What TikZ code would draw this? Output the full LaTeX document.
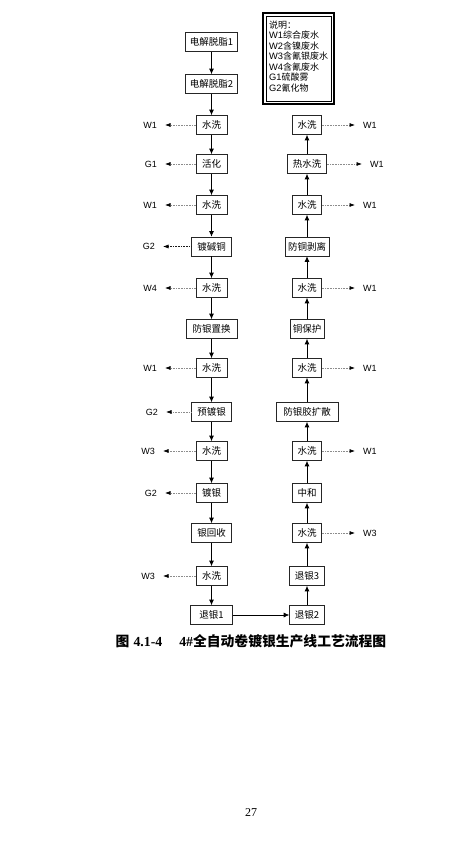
\documentclass[tikz,border=0pt]{standalone}
\usepackage{fontspec}
\setmainfont{Liberation Sans}
\newfontfamily\cjk{Noto Sans CJK SC}
\newfontfamily\serifnum{Liberation Serif}
\usetikzlibrary{arrows.meta}
\newcommand{\lat}[1]{{\rmfamily\fontsize{9.3}{10.5}\selectfont #1}}
\begin{document}
\begin{tikzpicture}[x=1pt,y=-1pt,
  proc/.style={draw=black!85, line width=0.6pt, font=\cjk\fontsize{9.5}{11}\selectfont, minimum height=19pt, inner xsep=1pt, inner ysep=0pt, minimum width=#1},
  flow/.style={line width=0.8pt, -{Latex[length=5.5pt,width=5pt]}},
  side/.style={black!45, densely dotted, line width=0.6pt, shorten >=8pt, -{Latex[length=5.5pt,width=4pt,color=black]}},
  sidedark/.style={side, black!90},
  lbl/.style={font=\fontsize{9}{10}\selectfont, inner sep=0pt},
]
\useasboundingbox (0,0) rectangle (454,842);
\fill[white] (0,0) rectangle (454,842);
\def\xl{211.5}
\def\xr{307}
% left column
\node[proc=52] (L1) at (\xl,42) {电解脱脂1};
\node[proc=52] (L2) at (\xl,84) {电解脱脂2};
\node[proc=31] (L3) at (\xl,125) {水洗};
\node[proc=31] (L4) at (\xl,164) {活化};
\node[proc=31] (L5) at (\xl,205) {水洗};
\node[proc=40] (L6) at (\xl,246.5) {镀碱铜};
\node[proc=31] (L7) at (\xl,288) {水洗};
\node[proc=51] (L8) at (\xl,329) {防银置换};
\node[proc=31] (L9) at (\xl,368) {水洗};
\node[proc=40] (L10) at (\xl,412) {预镀银};
\node[proc=31] (L11) at (\xl,451) {水洗};
\node[proc=31] (L12) at (\xl,493) {镀银};
\node[proc=40] (L13) at (\xl,533) {银回收};
\node[proc=31] (L14) at (\xl,576) {水洗};
\node[proc=42] (L15) at (\xl,615) {退银1};
% right column
\node[proc=29] (R1) at (\xr,125) {水洗};
\node[proc=39] (R2) at (\xr,164) {热水洗};
\node[proc=29] (R3) at (\xr,205) {水洗};
\node[proc=44] (R4) at (\xr,246.5) {防铜剥离};
\node[proc=29] (R5) at (\xr,288) {水洗};
\node[proc=34] (R6) at (\xr,329) {铜保护};
\node[proc=29] (R7) at (\xr,368) {水洗};
\node[proc=62] (R8) at (\xr,412) {防银胶扩散};
\node[proc=29] (R9) at (\xr,451) {水洗};
\node[proc=29] (R10) at (\xr,493) {中和};
\node[proc=29] (R11) at (\xr,533) {水洗};
\node[proc=35] (R12) at (\xr,576) {退银3};
\node[proc=35] (R13) at (\xr,615) {退银2};
% flow arrows
\foreach \a/\b in {L1/L2,L2/L3,L3/L4,L4/L5,L5/L6,L6/L7,L7/L8,L8/L9,L9/L10,L10/L11,L11/L12,L12/L13,L13/L14,L14/L15,R13/R12,R12/R11,R11/R10,R10/R9,R9/R8,R8/R7,R7/R6,R6/R5,R5/R4,R4/R3,R3/R2,R2/R1}
  \draw[flow] (\a) -- (\b);
\draw[flow, line width=0.6pt] (L15) -- (R13);
% left side labels
\node[lbl, anchor=east] (lw3) at (157,125) {W1};
\node[lbl, anchor=east] (lw4) at (157,164) {G1};
\node[lbl, anchor=east] (lw5) at (157,205) {W1};
\node[lbl, anchor=east] (lw6) at (155,246.5) {G2};
\node[lbl, anchor=east] (lw7) at (157,288) {W4};
\node[lbl, anchor=east] (lw9) at (157,368) {W1};
\node[lbl, anchor=east] (lw10) at (158,412) {G2};
\node[lbl, anchor=east] (lw11) at (155,451) {W3};
\node[lbl, anchor=east] (lw12) at (157,493) {G2};
\node[lbl, anchor=east] (lw14) at (155,576) {W3};
\draw[side] (L3) -- (lw3);
\draw[side] (L4) -- (lw4);
\draw[side] (L5) -- (lw5);
\draw[sidedark] (L6) -- (lw6);
\draw[side] (L7) -- (lw7);
\draw[side] (L9) -- (lw9);
\draw[side] (L10) -- (lw10);
\draw[side] (L11) -- (lw11);
\draw[side] (L12) -- (lw12);
\draw[side] (L14) -- (lw14);
% right side labels
\node[lbl, anchor=west] (rw1) at (363,125) {W1};
\node[lbl, anchor=west] (rw2) at (370,164) {W1};
\node[lbl, anchor=west] (rw3) at (363,205) {W1};
\node[lbl, anchor=west] (rw5) at (363,288) {W1};
\node[lbl, anchor=west] (rw7) at (363,368) {W1};
\node[lbl, anchor=west] (rw9) at (363,451) {W1};
\node[lbl, anchor=west] (rw11) at (363,533) {W3};
\draw[side] (R1) -- (rw1);
\draw[side] (R2) -- (rw2);
\draw[side] (R3) -- (rw3);
\draw[side] (R5) -- (rw5);
\draw[side] (R7) -- (rw7);
\draw[side] (R9) -- (rw9);
\draw[side] (R11) -- (rw11);
% legend
\node[draw, line width=1.3pt, minimum width=71pt, minimum height=91pt, inner sep=0pt] (legout) at (298.5,58.5) {};
\node[draw, line width=0.5pt, minimum width=65pt, minimum height=85pt, inner sep=0pt] (legin) at (298.5,58.5) {};
\node[anchor=north west, align=left, inner sep=0pt, font=\cjk\fontsize{9}{10.5}\selectfont] (legtext) at (269,20.5) {说明：\\\lat{W1}综合废水\\\lat{W2}含镍废水\\\lat{W3}含氰银废水\\\lat{W4}含氰废水\\\lat{G1}硫酸雾\\\lat{G2}氰化物};
% caption
\node[inner sep=0pt, font=\fontsize{13.8}{15}\selectfont] (caption) at (251,641) {{\cjk\bfseries 图}\hspace{4pt}{\serifnum\bfseries 4.1-4}\hspace{17pt}{\serifnum\bfseries 4\#}{\cjk\bfseries 全自动卷镀银生产线工艺流程图}};
\node[inner sep=0pt, font=\serifnum\fontsize{12}{14}\selectfont] (pagenum) at (251,813) {27};
\end{tikzpicture}
\end{document}
